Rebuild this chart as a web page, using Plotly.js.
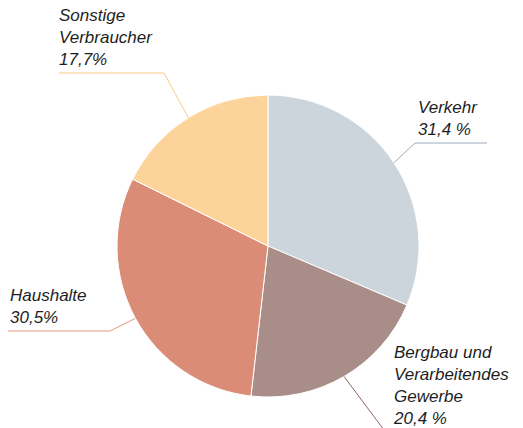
<!DOCTYPE html>
<html>
<head>
<meta charset="utf-8">
<script src="https://cdn.plot.ly/plotly-3.0.1.min.js"></script>
<style>html,body{margin:0;padding:0;background:#fff;}#chart{width:523px;height:428px;}</style>
</head>
<body>
<div id="chart"></div>
<script>
// Data
const categories = ['Verkehr', 'Bergbau und<br>Verarbeitendes<br>Gewerbe', 'Haushalte', 'Sonstige<br>Verbraucher'];
const values = [31.4, 20.4, 30.5, 17.7];
const valueLabels = ['31,4 %', '20,4 %', '30,5%', '17,7%'];

// Styles
const sliceColors = ['#cdd5dc', '#a98d88', '#da8c77', '#fcd49b'];
const lineColors = ['#9aacbd', '#8a6663', '#e39681', '#f9c886'];

const W = 523, H = 428;
const domX = [0.2237, 0.8011], domY = [0.0724, 0.778];
const cx = (domX[0] + domX[1]) / 2 * W;
const cy = H - (domY[0] + domY[1]) / 2 * H;
const R = Math.min((domX[1] - domX[0]) * W, (domY[1] - domY[0]) * H) / 2;

// label layout: elbow and end points (pixels), text anchor position
const labelLayout = [
  {elbow: [415, 143], end: [487, 143], tx: 416, ty: 141, align: 'left'},
  {elbow: null, end: [384, 430], tx: 391, ty: 430, align: 'left'},
  {elbow: [110, 331], end: [8, 331], tx: 8, ty: 329, align: 'left'},
  {elbow: [164, 73], end: [59, 73], tx: 57, ty: 71, align: 'left'}
];

const px = x => x / W, py = y => 1 - y / H;
const total = values.reduce((a, b) => a + b, 0);
let cum = 0;
const shapes = [], annotations = [];
values.forEach((v, i) => {
  const mid = (cum + v / 2) / total * 2 * Math.PI;
  cum += v;
  const sx = cx + R * Math.sin(mid), sy = cy - R * Math.cos(mid);
  const L = labelLayout[i];
  let path = `M ${px(sx)},${py(sy)}`;
  if (L.elbow) path += ` L ${px(L.elbow[0])},${py(L.elbow[1])}`;
  path += ` L ${px(L.end[0])},${py(L.end[1])}`;
  shapes.push({type: 'path', xref: 'paper', yref: 'paper', path: path,
    line: {color: lineColors[i], width: 1}});
  annotations.push({xref: 'paper', yref: 'paper', x: px(L.tx), y: py(L.ty),
    xanchor: 'left', yanchor: 'bottom', align: 'left', showarrow: false,
    text: categories[i] + '<br>' + valueLabels[i],
    font: {family: 'Liberation Sans, Arial, sans-serif', size: 17, color: '#1e1e1e', style: 'italic'}});
});

const trace = {
  type: 'pie', values: values, labels: categories,
  sort: false, direction: 'clockwise', rotation: 0,
  marker: {colors: sliceColors, line: {color: '#ffffff', width: 1}},
  textinfo: 'none', hoverinfo: 'none',
  domain: {x: domX, y: domY}
};

Plotly.newPlot('chart', [trace], {
  width: W, height: H, margin: {l: 0, r: 0, t: 0, b: 0},
  showlegend: false, paper_bgcolor: '#ffffff',
  shapes: shapes, annotations: annotations
}, {displayModeBar: false, staticPlot: true});
</script>
</body>
</html>
